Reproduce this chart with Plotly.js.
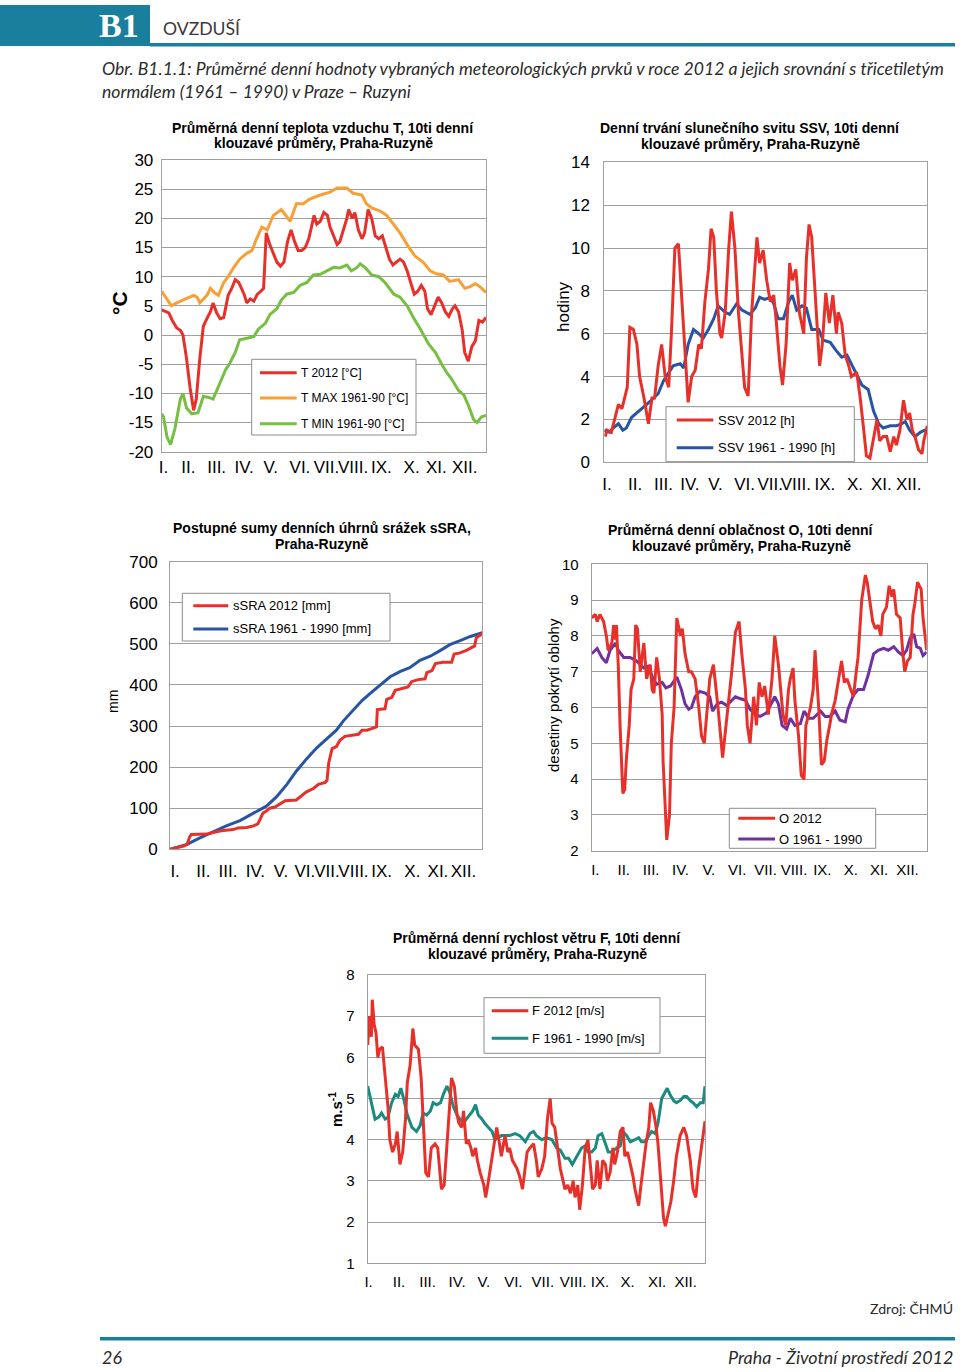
<!DOCTYPE html>
<html><head><meta charset="utf-8">
<script src="https://cdn.plot.ly/plotly-3.0.1.min.js"></script>
<style>html,body{margin:0;padding:0;background:#fff;}#chart{width:960px;height:1372px;}</style>
</head><body><div id="chart"></div>
<script>
// ---------- DATA ----------
const monthLabels = ['I.','II.','III.','IV.','V.','VI.','VII.','VIII.','IX.','X.','XI.','XII.'];
// day-of-year where each month label sits, per chart
const monthTicksTemp  = [2,30,62,93,123,156,186,216,248,282,310,342];
const monthTicksSun   = [3,35,67,97,126,159,188,217,250,284,314,345];
const monthTicksRain  = [6,39,68,100,130,158,184,215,248,284,314,344];
const monthTicksCloud = [4,35,65,97,128,159,190,221,252,283,314,345];
const monthTicksWind  = [1,34,65,97,126,158,190,223,252,282,314,345];
const tempTickVals = [-20,-15,-10,-5,0,5,10,15,20,25,30];
const tempTickText = ['-20','-15','-10','-5','0','5','10','15','20','25','30'];

// Temperature (°C)
const tempDays2012 = [0,4,8,12,17,21,24,28,32,36,39,43,47,51,55,58,62,66,70,75,79,83,87,90,93,96,100,104,108,112,115,118,122,126,130,134,138,142,146,150,154,158,162,166,170,172,175,179,183,187,190,194,198,201,205,209,211,215,218,222,226,229,233,237,241,245,249,253,257,261,265,269,273,277,281,285,289,293,297,300,304,308,312,316,320,324,328,331,335,339,342,346,350,354,358,362,366];
const temp2012 = [4.3,4,3.8,2.5,1.2,0.8,0,-4,-9,-12.9,-11,-4,1.5,2.8,4,5.5,3.8,2.8,3,6.8,8,9.5,9,8,7,5.5,6.2,5.8,7,7.5,8,17.5,15.5,14,12.5,11.8,12.5,16,18,16,14.5,14.5,15,16.5,19,20.5,19,19.5,21,20.5,18.5,17,15.5,16,18,20,21.5,20,21,18,16.5,17.5,21.5,20,17,16.5,17,15,13,12,12.5,13,12.5,11,9,7,7.5,8.5,7.5,4.5,3.5,5,6.5,5.5,4,3.2,4.5,5,4,1,-3,-4.5,-2,-1,2.5,2.2,3];
const tmaxDays = [0,11,17,28,36,40,43,51,55,60,64,70,75,81,88,96,102,107,113,119,126,135,145,152,160,167,179,190,198,209,216,226,231,237,246,254,262,269,277,286,295,303,310,318,325,335,342,348,354,359,366];
const tmax = [7.5,5,5.5,6.3,6.8,6.5,5.5,6.8,8,7.2,6.8,9,10,11.5,13,14,14.5,16.5,18.5,18,20.5,21.5,19.5,22.5,22.5,23.3,24,24.5,25.2,25.2,24.3,24,22.5,21.8,21.3,20.5,19,17.5,15.5,13.5,12.5,11,10.5,10.3,9.2,9.5,8,8.3,8.8,8.3,7.3];
const tminDays = [0,2,6,10,15,21,24,28,34,41,47,53,58,66,72,77,83,88,96,104,109,117,122,130,135,141,149,156,164,171,179,186,194,201,209,214,220,224,230,237,245,252,262,269,277,284,292,301,309,316,322,327,335,341,346,352,356,361,366];
const tmin = [-13.5,-14,-17.5,-18.8,-16,-11,-10,-12.5,-13.5,-13.3,-10.5,-10.7,-11,-8,-6,-4.8,-3,-0.8,-0.5,-0.3,1,2,3.5,4.5,6,7,7.3,8.5,9,10.3,10.4,11,11.6,11.5,12,11,11.5,12.2,11.5,10.3,10,9,7,6.5,5,3,1,-1.5,-3,-5,-6.5,-7.5,-9.5,-10.3,-12,-14.5,-15,-14,-13.8];

// Sunshine duration (h)
const ssvDays2012 = [1,3,8,12,16,20,23,26,29,33,37,40,45,50,54,57,61,65,69,73,76,80,84,88,91,95,99,103,107,110,114,118,121,124,127,131,133,137,141,144,148,152,156,159,163,167,173,176,180,184,188,192,195,199,202,206,210,213,217,221,226,229,232,235,238,241,244,247,251,255,259,263,265,269,273,277,280,286,290,294,297,301,305,309,312,316,320,324,328,331,335,339,343,346,349,352,356,360,362,366];
const ssv2012 = [1.2,1.5,1.4,2,2.7,2.5,3,3.5,6.3,6.2,5.5,4,3,1.8,3,3,4.5,5.5,4,3.5,6,10,10.2,7.5,5,2.8,4,4.3,5.5,5.3,7.5,9,10.9,10.5,8,6,5.8,7,10,11.7,10,7,5,3.5,3.1,7,10.5,9.3,9.9,8.5,7.5,7.8,6.5,4.5,3.6,5.5,9.3,8.5,9,7,6,9.5,11.1,10.5,8.5,6.5,4.5,5.5,7.9,6.5,7.8,6,7,6.5,5,4.5,4,4.2,3,1.5,0.3,0.2,1.2,2,1,1.2,1.2,0.5,1.2,0.8,1.5,2.9,2,2.3,1.5,1.2,0.6,0.4,1,1.7];
const ssvNormDays = [0,6,10,16,21,25,31,40,48,56,61,67,73,78,86,90,95,101,107,112,118,124,129,137,142,150,156,161,165,171,176,182,188,192,197,203,209,213,218,224,229,235,243,248,256,263,269,275,280,286,292,299,305,311,316,324,331,337,341,346,352,358,363,366];
const ssvNorm = [1.5,1.4,1.6,1.8,1.5,1.6,2.1,2.4,2.7,3,3.2,3.8,4.2,4.5,4.6,4.4,5.5,6.2,6,5.8,6.2,6.7,7.3,7,6.9,7.4,7.1,7,6.9,7.2,7.7,7.6,7.7,7.4,6.7,6.7,7.5,7.8,7.1,7.3,7.2,6.2,6.2,5.7,5.6,5.2,4.9,5,4.6,4.1,3.6,3.4,2.4,1.8,1.6,1.7,1.7,1.8,1.9,1.5,1.2,1.4,1.5,1.4];

// Cumulative precipitation (mm)
const rainDays2012 = [0,16,20,23,25,43,53,60,74,80,90,98,103,106,109,113,117,123,129,135,148,154,160,168,174,182,184,186,190,195,199,205,213,221,225,231,238,242,243,252,254,260,264,272,279,283,291,299,301,307,311,320,330,333,340,348,354,357,359,366];
const rain2012 = [0,8,12,30,36,37,42,45,48,52,53,57,62,75,88,93,100,103,110,118,120,130,140,148,158,163,168,210,245,250,265,275,278,280,290,290,295,298,340,342,365,370,387,392,395,408,413,415,430,435,452,455,455,475,478,485,493,495,515,525];
const rainNormDays = [0,20,35,51,66,82,98,113,125,137,148,160,172,184,195,203,215,225,235,246,258,270,281,293,305,316,328,340,352,366];
const rainNorm = [0,12,28,43,57,70,88,105,128,158,190,220,247,270,290,312,340,362,380,400,420,433,442,460,470,483,498,508,518,527];

// Cloudiness (tenths)
const cloudDays2012 = [0,4,6,9,13,16,18,22,24,26,27,29,31,34,36,38,41,43,46,48,50,53,57,60,64,66,68,71,74,77,78,80,82,85,87,90,93,97,99,102,106,109,113,117,120,123,126,129,133,136,138,143,146,149,153,157,161,164,168,170,173,177,180,183,186,189,193,197,200,204,207,209,212,215,217,220,222,226,229,232,234,239,242,244,248,251,254,257,260,262,266,270,273,276,279,283,286,289,291,295,299,301,304,307,310,313,316,318,322,325,328,330,333,337,340,342,345,348,351,353,356,360,362,366];
const cloud2012 = [8.5,8.6,8.4,8.6,8.4,8,7.6,7.8,8.3,7.9,8.3,7.2,5.5,3.6,3.7,4.6,5.5,6.5,6.8,8.3,8.2,7,7.8,6.8,7.2,6.5,6.4,7.4,6.8,5.8,4.5,3.5,2.3,3,5,6,8.5,8,8.2,7.5,7,7,6.8,6,5.2,5,5.8,6.8,7.2,6.5,6,4.6,5.3,6,7,8.1,8.4,7.5,6.5,5.5,5,6.3,5.5,6.7,6.3,6.6,5.8,6.8,8,7.2,6.2,5.8,5.5,6.5,6.8,7.1,6.2,5.2,4.1,4,5.5,6,6.5,7.6,6,4.4,4.5,5.1,5.5,5.8,6.2,6.8,7.3,6.7,6.8,6.5,6.3,7,7.4,9,9.7,9.5,8.9,8.4,8.2,8.3,8,8.6,8.8,9.4,9.1,9.3,8.6,8.5,7.5,7,7.3,7.4,8.6,8.9,9.5,9.3,8.5,7.6];
const cloudNormDays = [0,6,11,16,20,26,29,35,42,49,57,62,67,71,77,81,86,93,98,102,106,109,113,118,124,129,132,137,142,148,151,157,162,168,173,179,184,191,195,200,204,208,213,217,222,228,232,237,242,250,255,260,266,271,277,280,286,291,297,302,308,313,319,324,330,335,340,344,348,352,355,359,362,366];
const cloudNorm = [7.5,7.65,7.4,7.25,7.6,7.8,7.6,7.4,7.4,7.3,7.1,7.15,6.8,6.65,6.7,6.55,6.6,6.85,6.5,6.1,5.95,6,6.3,6.45,6.4,6.3,5.9,6.1,6.15,6.05,6.15,6.3,6.25,6.2,5.95,5.8,5.75,5.85,6.05,6.3,6.1,5.5,5.4,5.7,5.5,5.55,5.9,5.7,5.7,5.9,5.75,5.75,5.9,5.65,5.6,5.95,6.35,6.5,6.5,6.9,7.5,7.6,7.65,7.6,7.7,7.55,7.45,7.6,7.95,8.05,7.7,7.65,7.45,7.55];

// Wind speed (m/s)
const windDays2012 = [0,2,4,5,7,9,11,13,16,19,22,24,27,30,32,35,38,41,43,46,49,51,55,58,60,63,66,69,73,76,78,80,83,86,89,91,94,97,99,102,104,107,109,112,114,117,119,122,126,128,131,134,137,140,143,145,149,152,154,157,162,165,168,171,173,176,180,183,185,189,192,195,198,200,203,206,209,212,214,217,220,223,225,228,230,233,236,239,241,244,247,249,252,255,258,260,263,266,268,271,274,277,279,282,285,288,290,294,296,299,302,305,307,310,313,315,318,321,323,326,329,332,335,339,343,346,350,353,356,359,362,364,366];
const wind2012 = [6.3,7,6.5,7.4,6.8,6.6,6,6.2,6.25,5.5,4.8,4,3.7,3.9,4.2,3.4,3.7,4.5,5.4,5.8,6.7,6.3,6.2,5.5,4.5,3.2,3.1,3.8,3.9,3.8,3.3,2.8,2.9,3.8,4.8,5.5,5.3,4.6,4.4,4.3,4.7,3.9,4,3.8,3.6,3.8,3.5,3.2,2.9,2.6,3,3.4,3.9,4.3,3.9,3.6,4.1,3.7,3.8,3.5,3.3,3.1,2.8,3.4,3.7,3.8,3.9,3.5,3.1,3.3,3.6,4.5,5,4.4,4.3,3.8,3.3,3,2.8,2.9,2.7,3,2.6,2.9,2.3,2.9,3.8,4,3.5,2.8,2.9,3.5,2.8,3.5,3.4,3,3.2,3.8,3.4,3.7,4.2,4.3,3.6,3.7,3.4,3.1,2.8,2.4,2.8,3.4,3.9,4.3,4.9,4.7,4.3,3.9,3,2.1,1.9,2.2,2.5,3,3.6,4.1,4.3,4.1,3.5,2.8,2.6,3.3,3.8,4.1,4.45];
const windNormDays = [0,4,8,12,15,19,22,26,30,33,36,39,43,48,53,57,60,64,68,71,75,79,82,86,89,93,97,100,104,107,111,114,117,120,124,127,131,135,138,142,145,149,154,160,165,171,176,180,183,189,194,200,205,209,214,218,222,227,232,236,239,243,247,250,254,258,261,265,270,274,277,281,285,290,294,297,301,305,308,312,315,319,323,325,328,332,335,339,343,346,350,353,357,361,364,366];
const windNorm = [5.3,4.9,4.5,4.55,4.65,4.5,4.55,4.9,5.1,5.05,5.25,5,4.6,4.3,4.2,4.35,4.65,4.6,4.7,4.9,4.85,4.9,5.1,5.3,5.15,4.8,4.6,4.5,4.4,4.5,4.6,4.7,4.85,4.6,4.5,4.4,4.3,4.2,4,4.05,4.1,4.1,4.1,4.15,4.1,3.95,4.15,4.2,4.1,4,4.05,4,3.8,3.75,3.55,3.55,3.4,3.6,3.8,3.85,3.7,3.7,3.8,4.1,4.15,3.9,3.7,3.7,3.8,3.85,4.2,4.1,3.95,4,4.05,3.95,3.95,4.1,4.2,4.15,4.4,5,5.15,5.25,5.1,4.95,4.9,4.95,5.05,5.05,4.95,4.9,4.8,4.9,4.9,5.3];

// ---------- LAYOUT HELPERS ----------
const W = 960, H = 1372;
const PX = x => x / W, PY = y => 1 - y / H;
const FONT = '"Liberation Sans", Arial, sans-serif';
const GRID = '#a0a0a0';
const RED = '#e8302a', ORANGE = '#f7a035', GREEN = '#77bf43', BLUE = '#2755a3', PURPLE = '#7030a0', TEAL = '#1b8a80';

const panels = [
  {n:1, l:161.7, r:486, t:160, b:451.7, range:[-20,30], dtick:5, ytf:17, xtf:17, xstand:0, ystand:4, xt:monthTicksTemp,
   yvals:tempTickVals, ytext:tempTickText,
   title:['Průměrná denní teplota vzduchu T, 10ti denní','klouzavé průměry, Praha-Ruzyně'], tx:323, ty:[128,143],
   yt:'<b>°C</b>', ytx:119, yty:303, yts:21,
   series:[[tempDays2012,temp2012,RED,'T 2012 [°C]'],[tmaxDays,tmax,ORANGE,'T MAX 1961-90 [°C]'],[tminDays,tmin,GREEN,'T MIN 1961-90 [°C]']],
   leg:{box:[251.7,359.3,416,435], ys:[372.7,398,423.7], lx:[260,296.7], txx:298.5, fs:12}},
  {n:2, l:604.3, r:927.3, t:162.3, b:462.3, range:[0,14], dtick:2, ytf:17, xtf:17, xstand:6, ystand:10, xt:monthTicksSun,
   title:['Denní trvání slunečního svitu SSV, 10ti denní','klouzavé průměry, Praha-Ruzyně'], tx:750, ty:[128,144],
   yt:'hodiny', ytx:563, yty:307, yts:17,
   series:[[ssvDays2012,ssv2012,RED,'SSV 2012 [h]'],[ssvNormDays,ssvNorm,BLUE,'SSV 1961 - 1990 [h]']],
   leg:{box:[666,406.7,854.3,461.7], ys:[420,447.7], lx:[676.7,713.3], txx:715.5, fs:13}},
  {n:3, l:170, r:482.3, t:561.7, b:849.3, range:[0,700], dtick:100, ytf:17, xtf:17, xstand:6, ystand:8, xt:monthTicksRain,
   title:['Postupné sumy denních úhrnů srážek sSRA,','Praha-Ruzyně'], tx:322, ty:[528,544],
   yt:'mm', ytx:113, yty:702, yts:14,
   series:[[rainDays2012,rain2012,RED,'sSRA 2012 [mm]'],[rainNormDays,rainNorm,BLUE,'sSRA 1961 - 1990 [mm]']],
   leg:{box:[182.3,593.3,390,641], ys:[605.7,629], lx:[193.3,228.3], txx:231, fs:13}},
  {n:4, l:591.7, r:926.7, t:564.3, b:850.7, range:[2,10], dtick:1, ytf:15, xtf:15, xstand:5, ystand:9, xt:monthTicksCloud,
   title:['Průměrná denní oblačnost O, 10ti denní','klouzavé průměry, Praha-Ruzyně'], tx:741, ty:[530,546],
   yt:'desetiny pokrytí oblohy', ytx:553, yty:695, yts:15,
   series:[[cloudDays2012,cloud2012,RED,'O 2012'],[cloudNormDays,cloudNorm,PURPLE,'O 1961 - 1990']],
   leg:{box:[729.3,808.3,875.7,848.3], ys:[818.3,839], lx:[738.3,775], txx:777, fs:13}},
  {n:5, l:367.7, r:705, t:975, b:1263.3, range:[1,8], dtick:1, ytf:15, xtf:15, xstand:5, ystand:9, xt:monthTicksWind,
   title:['Průměrná denní rychlost větru F, 10ti denní','klouzavé průměry, Praha-Ruzyně'], tx:537, ty:[938,954],
   yt:'<b>m.s<sup>-1</sup></b>', ytx:335, yty:1110, yts:15,
   series:[[windDays2012,wind2012,RED,'F 2012 [m/s]'],[windNormDays,windNorm,TEAL,'F 1961 - 1990 [m/s]']],
   leg:{box:[484,997.7,660,1053.3], ys:[1010.7,1038.3], lx:[491.7,528.3], txx:530, fs:13}}
];

const traces = [], shapes = [], annotations = [];
const layout = {
  width: W, height: H, margin: {l:0, r:0, t:0, b:0},
  paper_bgcolor: '#fff', plot_bgcolor: '#fff', showlegend: false,
  font: {family: FONT, color: '#000'}
};

panels.forEach(p => {
  const sx = p.n === 1 ? '' : String(p.n);
  layout['xaxis' + sx] = {
    domain: [PX(p.l), PX(p.r)], range: [0, 366], anchor: 'y' + sx,
    tickmode: 'array', tickvals: p.xt, ticktext: monthLabels, tickangle: 0,
    tickfont: {family: FONT, size: p.xtf, color: '#000'}, ticks: '',
    ticklabelstandoff: p.xstand,
    showgrid: false, zeroline: false, showline: true, linecolor: GRID, linewidth: 1, mirror: true, fixedrange: true
  };
  const ya = {
    domain: [PY(p.b), PY(p.t)], range: p.range, anchor: 'x' + sx, dtick: p.dtick, tick0: p.range[0],
    tickfont: {family: FONT, size: p.ytf, color: '#000'}, ticks: '', ticklabelstandoff: p.ystand,
    showgrid: true, gridcolor: GRID, gridwidth: 1, zeroline: false,
    showline: true, linecolor: GRID, linewidth: 1, mirror: true, fixedrange: true
  };
  if (p.yvals) { ya.tickmode = 'array'; ya.tickvals = p.yvals; ya.ticktext = p.ytext; }
  layout['yaxis' + sx] = ya;
  const order = p.series.slice(1).concat([p.series[0]]);
  order.forEach(s => {
    traces.push({x: s[0], y: s[1], type: 'scatter', mode: 'lines', name: s[3],
      xaxis: 'x' + sx, yaxis: 'y' + sx, line: {color: s[2], width: 3}});
  });
  p.title.forEach((t, i) => annotations.push({xref:'paper', yref:'paper', x:PX(p.tx), y:PY(p.ty[i]),
    text:'<b>' + t + '</b>', showarrow:false, xanchor:'center', yanchor:'middle',
    font:{family:FONT, size:14, color:'#000'}}));
  annotations.push({xref:'paper', yref:'paper', x:PX(p.ytx), y:PY(p.yty), text:p.yt, textangle:-90,
    showarrow:false, xanchor:'center', yanchor:'middle', font:{family:FONT, size:p.yts, color:'#000'}});
  const L = p.leg;
  shapes.push({type:'rect', xref:'paper', yref:'paper', x0:PX(L.box[0]), x1:PX(L.box[2]), y0:PY(L.box[3]), y1:PY(L.box[1]),
    fillcolor:'#fff', line:{color:'#8c8c8c', width:1}, layer:'above'});
  p.series.forEach((s, i) => {
    shapes.push({type:'line', xref:'paper', yref:'paper', x0:PX(L.lx[0]), x1:PX(L.lx[1]), y0:PY(L.ys[i]), y1:PY(L.ys[i]),
      line:{color:s[2], width:3}, layer:'above'});
    annotations.push({xref:'paper', yref:'paper', x:PX(L.txx), y:PY(L.ys[i]), text:s[3], showarrow:false,
      xanchor:'left', yanchor:'middle', font:{family:FONT, size:L.fs, color:'#000'}});
  });
});

// ---------- PAGE HEADER / FOOTER ----------
const PAGE_TEAL = '#1a7f9c';
const CAPF = 'Lato';
const mctx = document.createElement('canvas').getContext('2d');
function fitSize(text, style, target, base, lo, hi) {
  mctx.font = style + ' ' + base + 'px ' + CAPF + ', sans-serif';
  const w = mctx.measureText(text).width;
  const s = base * target / w;
  return Math.max(lo, Math.min(hi, Math.round(s * 10) / 10));
}
function addText(txt, x, y, anchor, size, style, color) {
  annotations.push({xref:'paper', yref:'paper', x:PX(x), y:PY(y), showarrow:false, xanchor:anchor, align:anchor,
    yanchor:'middle', text:txt, font:{family:CAPF + ', "Liberation Sans", sans-serif', size:size, color:color || '#2b2b2b', style:style}});
}
shapes.push({type:'rect', xref:'paper', yref:'paper', x0:0, x1:PX(150), y0:PY(46), y1:PY(5), fillcolor:PAGE_TEAL, line:{width:0}});
shapes.push({type:'rect', xref:'paper', yref:'paper', x0:PX(150), x1:PX(955), y0:PY(46.5), y1:PY(43), fillcolor:PAGE_TEAL, line:{width:0}});
annotations.push({xref:'paper', yref:'paper', x:PX(119), y:PY(26), text:'<b>B1</b>', showarrow:false,
  xanchor:'center', yanchor:'middle', font:{family:'"Liberation Serif", "DejaVu Serif", serif', size:34, color:'#fff'}});
const headTxt = 'OVZDUŠÍ';
addText(headTxt, 161, 28, 'left', fitSize(headTxt, 'normal', 77, 17, 14, 20), 'normal', '#3a3a3a');

const cap1 = 'Obr. B1.1.1: Průměrné denní hodnoty vybraných meteorologických prvků v roce 2012 a jejich srovnání s třicetiletým';
const cap2 = 'normálem (1961 – 1990) v Praze – Ruzyni';
const capSize = fitSize(cap1, 'italic', 846, 17, 13, 19);
addText(cap1, 100, 68, 'left', capSize, 'italic');
addText(cap2, 100, 91, 'left', capSize, 'italic');
const srcTxt = 'Zdroj: ČHMÚ';
addText(srcTxt, 955, 1308, 'right', fitSize(srcTxt, 'normal', 83, 15, 12, 18), 'normal');
shapes.push({type:'rect', xref:'paper', yref:'paper', x0:PX(100), x1:PX(955), y0:PY(1340.5), y1:PY(1337), fillcolor:PAGE_TEAL, line:{width:0}});
const footTxt = 'Praha - Životní prostředí 2012';
const footSize = fitSize(footTxt, 'italic', 226, 18, 14, 20);
addText('26', 100, 1357, 'left', footSize, 'italic');
addText(footTxt, 955, 1357, 'right', footSize, 'italic');

layout.shapes = shapes;
layout.annotations = annotations;

Plotly.newPlot('chart', traces, layout, {staticPlot: true, displayModeBar: false});
</script>
</body></html>
